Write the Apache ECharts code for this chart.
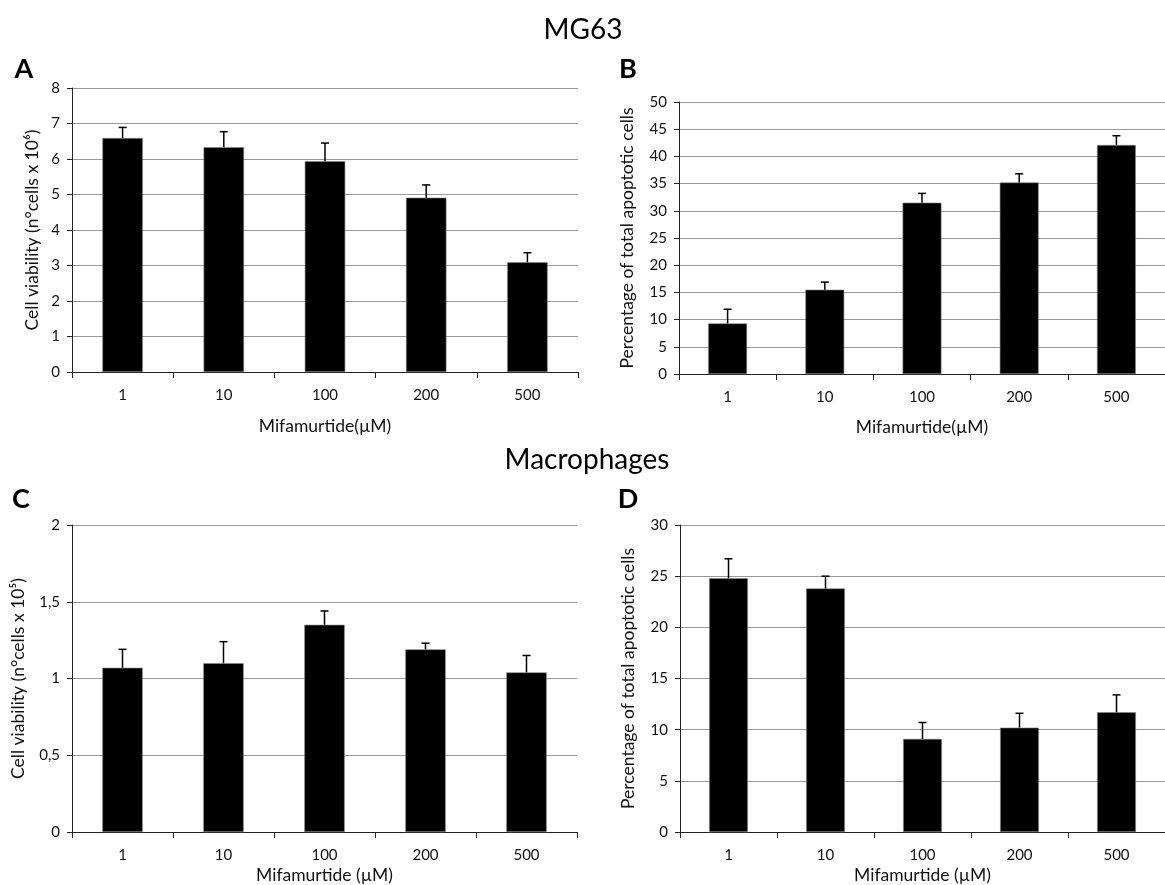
<!DOCTYPE html>
<html>
<head>
<meta charset="utf-8">
<script src="https://cdn.jsdelivr.net/npm/echarts@6/dist/echarts.min.js"></script>
<style>
html,body{margin:0;padding:0;background:#fff;}
#chart{width:1165px;height:885px;}
</style>
</head>
<body>
<div id="chart"></div>
<script>
// ---- data ----
const categories = ['1', '10', '100', '200', '500'];
const meanA = [6.59, 6.33, 5.94, 4.91, 3.09];
const errA  = [0.30, 0.44, 0.51, 0.36, 0.27];
const meanB = [9.3, 15.5, 31.5, 35.2, 42.1];
const errB  = [2.6, 1.4, 1.7, 1.6, 1.7];
const meanC = [1.07, 1.10, 1.35, 1.19, 1.04];
const errC  = [0.12, 0.14, 0.09, 0.04, 0.11];
const meanD = [24.8, 23.8, 9.1, 10.2, 11.7];
const errD  = [1.9, 1.2, 1.6, 1.4, 1.7];

const FONT = 'Lato, "Open Sans", sans-serif';
const chart = echarts.init(document.getElementById('chart'));

const grids = [
  {left: 72, top: 88, width: 506, height: 284},
  {left: 679, top: 102, width: 497, height: 272},
  {left: 72, top: 525, width: 505, height: 310},
  {left: 680, top: 525, width: 488, height: 310}
];

const xNames = ['Mifamurtide(\u00B5M)', 'Mifamurtide(\u00B5M)', 'Mifamurtide (\u00B5M)', 'Mifamurtide (\u00B5M)'];
const xNameGaps = [45, 44, 34, 34];
const yNames = ['Cell viability (n\u00B0cells x 10\u2076)', 'Percentage of total apoptotic cells',
                'Cell viability (n\u00B0cells x 10\u2075)', 'Percentage of total apoptotic cells'];
const yNameGaps = [31, 43, 45, 43];
const yMax = [8, 50, 2, 30];
const yInt = [1, 5, 0.5, 5];
const means = [meanA, meanB, meanC, meanD];
const errs = [errA, errB, errC, errD];

const xAxis = grids.map((g, i) => ({
  type: 'category', gridIndex: i, data: categories,
  boundaryGap: true,
  axisLine: {lineStyle: {color: '#222', width: 1}},
  axisTick: {show: true, length: 6, interval: 0, lineStyle: {color: '#222'}},
  axisLabel: {color: '#111', fontSize: 15, fontFamily: FONT, margin: 16},
  name: xNames[i], nameLocation: 'middle', nameGap: xNameGaps[i],
  nameTextStyle: {color: '#111', fontSize: 17.5, fontFamily: FONT}
}));

const yAxis = grids.map((g, i) => ({
  type: 'value', gridIndex: i, min: 0, max: yMax[i], interval: yInt[i],
  axisLine: {show: true, lineStyle: {color: '#222', width: 1}},
  axisTick: {show: true, length: 5, lineStyle: {color: '#222'}},
  splitLine: {show: true, lineStyle: {color: '#999', width: 1.2}},
  axisLabel: {color: '#111', fontSize: 15, fontFamily: FONT, margin: 12,
    formatter: v => String(v).replace('.', ',')},
  name: yNames[i], nameLocation: 'middle', nameGap: yNameGaps[i], nameRotate: 90,
  nameTextStyle: {color: '#111', fontSize: 17.5, fontFamily: FONT}
}));

const series = [];
means.forEach((m, i) => {
  series.push({
    type: 'bar', xAxisIndex: i, yAxisIndex: i, data: m,
    barWidth: '40%',
    itemStyle: {color: '#000', borderColor: '#888', borderWidth: 0.6},
    silent: true, animation: false
  });
  series.push({
    type: 'custom', xAxisIndex: i, yAxisIndex: i,
    data: m.map((v, k) => [k, v, errs[i][k]]),
    z: 5, silent: true, animation: false,
    renderItem: function (params, api) {
      const idx = api.value(0), mv = api.value(1), ev = api.value(2);
      const base = api.coord([idx, mv]);
      const top = api.coord([idx, mv + ev]);
      const st = {stroke: '#000', lineWidth: 1.5};
      return {
        type: 'group',
        children: [
          {type: 'line', shape: {x1: base[0], y1: base[1], x2: top[0], y2: top[1]}, style: st},
          {type: 'line', shape: {x1: top[0] - 4, y1: top[1], x2: top[0] + 4, y2: top[1]}, style: st}
        ]
      };
    }
  });
});

const txt = (text, x, y, size, bold) => ({
  type: 'text', x: x, y: y,
  style: {text: text, fill: '#000', font: (bold ? 'bold ' : '') + size + 'px ' + FONT,
          textAlign: 'center', textVerticalAlign: 'middle'}
});

chart.setOption({
  animation: false,
  backgroundColor: '#fff',
  grid: grids,
  xAxis: xAxis,
  yAxis: yAxis,
  series: series,
  graphic: [
    txt('MG63', 583, 30, 28, false),
    txt('Macrophages', 587, 460, 28, false),
    txt('A', 24, 69, 27, true),
    txt('B', 628, 69, 27, true),
    txt('C', 21, 499, 27, true),
    txt('D', 628, 499, 27, true)
  ]
});
</script>
</body>
</html>
